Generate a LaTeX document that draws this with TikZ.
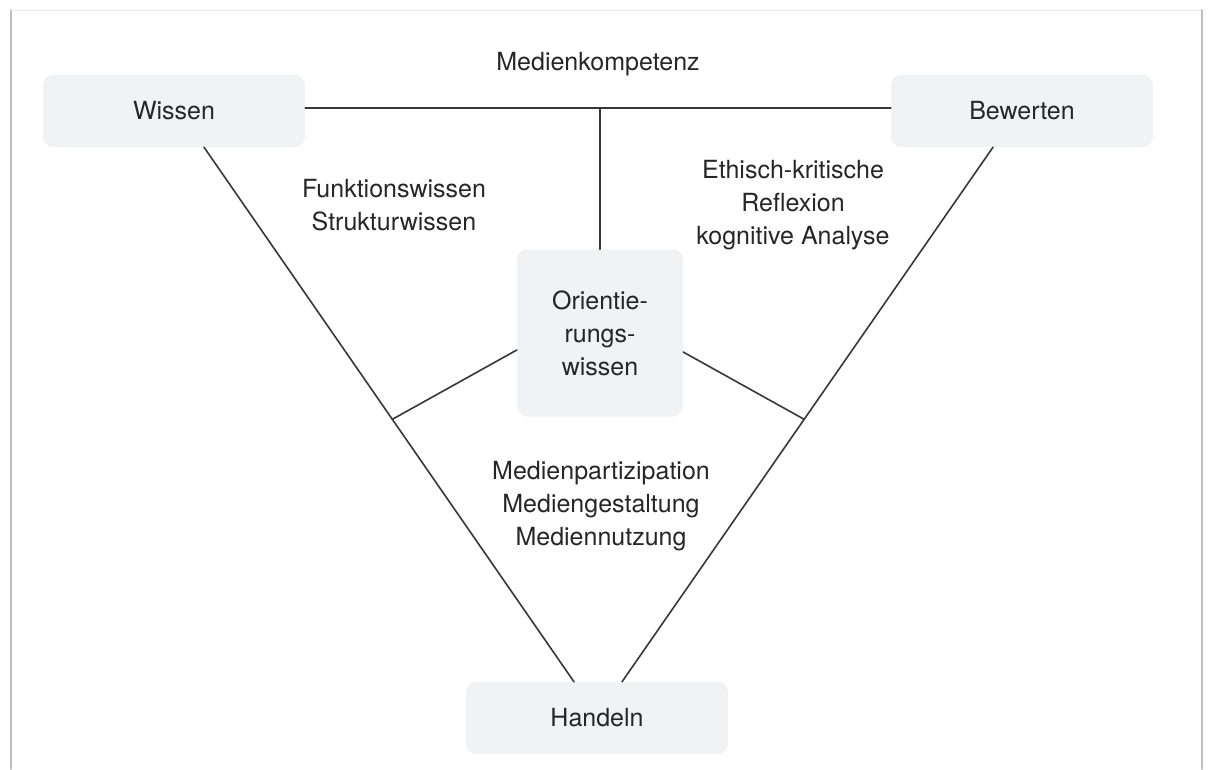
\documentclass[tikz,border=0pt]{standalone}
\usepackage{fontspec}
\setmainfont{TeX Gyre Heros}
\usetikzlibrary{calc}
\definecolor{boxfill}{RGB}{240,242,244}
\definecolor{inkgray}{RGB}{38,38,38}
\definecolor{linegray}{RGB}{55,55,55}
\definecolor{framegray}{RGB}{190,190,190}

\begin{document}
\begin{tikzpicture}[x=1pt,y=-1pt,line cap=round,
  pillar/.style={rectangle,rounded corners=10pt,fill=boxfill,text=inkgray,
    minimum width=262pt,minimum height=72pt,inner sep=0pt,
    font=\fontsize{25}{33}\selectfont},
  hub/.style={pillar,minimum width=166pt,minimum height=167pt,align=center},
  caption/.style={text=inkgray,align=center,inner sep=0pt,font=\fontsize{25}{33}\selectfont},
  link/.style={draw=linegray,line width=1.6pt}]
\path[use as bounding box] (0,0) rectangle (1208,769);
% frame
\draw[framegray,line width=2pt] (11,769) -- (11,10);
\draw[framegray!40,line width=1pt] (11,10) -- (1202,10);
\draw[framegray,line width=2pt] (1202,10) -- (1202,769);
% boxes
\node[pillar] (wissen) at (174,111) {Wissen};
\node[pillar] (bewerten) at (1022,111) {Bewerten};
\node[pillar] (handeln) at (597,718) {Handeln};
\node[hub] (orient) at (600,333) {Orientie-\\rungs-\\wissen};
% texts
\node[caption] (kompetenz) at (598,64) {Medienkompetenz};
\node[caption] (funktion) at (394,205) {Funktionswissen\\Strukturwissen};
\node[caption] (reflexion) at (793,205) {Ethisch-kritische\\Reflexion\\kognitive Analyse};
\node[caption] (nutzung) at (601,506) {Medienpartizipation\\Mediengestaltung\\Mediennutzung};
% lines
\coordinate (we) at ([yshift=3pt]wissen.east);
\coordinate (bw) at ([yshift=3pt]bewerten.west);
\coordinate (wl) at ([xshift=30pt]wissen.south);
\coordinate (hl) at ([xshift=-23pt]handeln.north);
\coordinate (br) at ([xshift=-29pt]bewerten.south);
\coordinate (hr) at ([xshift=25pt]handeln.north);
\coordinate (jl) at ($(wl)!0.509!(hl)$);
\coordinate (jr) at ($(br)!0.509!(hr)$);
\coordinate (top) at (orient.north |- we);
\draw[link] (we) -- (bw);
\draw[link] (top) -- (orient.north);
\draw[link] (wl) -- (hl);
\draw[link] (br) -- (hr);
\draw[link] ([yshift=-17pt]orient.west) -- (jl);
\draw[link] ([yshift=-19pt]orient.east) -- (jr);
\end{tikzpicture}
\end{document}
